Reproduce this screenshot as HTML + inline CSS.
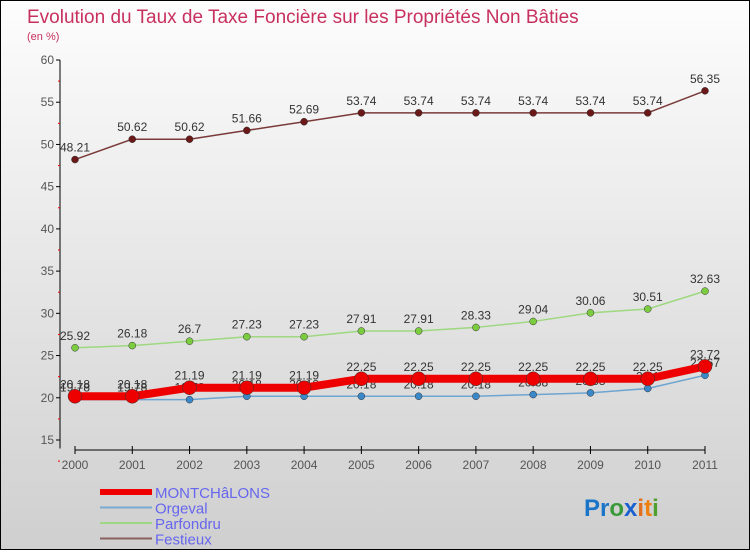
<!DOCTYPE html>
<html><head><meta charset="utf-8"><style>
html,body{margin:0;padding:0}
body{width:750px;height:550px;overflow:hidden;font-family:"Liberation Sans",sans-serif}
#wrap{position:relative;width:748px;height:548px;border:1px solid #000;background:linear-gradient(#fdfdfd,#cfcfcf)}
</style></head><body>
<div id="wrap">
<svg id="chart" width="748" height="548" xmlns="http://www.w3.org/2000/svg">
<text x="26" y="22" font-size="19" fill="#c8305f">Evolution du Taux de Taxe Foncière sur les Propriétés Non Bâties</text>
<text x="26" y="39" font-size="11" fill="#c8305f">(en %)</text>
<g id="axes"></g><g id="series"></g><g id="legend"></g>
<text x="583" y="515" font-size="24" font-weight="bold"><tspan fill="#1a75c9">Pr</tspan><tspan fill="#3a9a3a">o</tspan><tspan fill="#1a5fd0">x</tspan><tspan fill="#e07020">i</tspan><tspan fill="#f08010">t</tspan><tspan fill="#50a030">i</tspan></text>
</svg></div>
<script>
const years=[2000,2001,2002,2003,2004,2005,2006,2007,2008,2009,2010,2011];
const montchalons=[20.18,20.18,21.19,21.19,21.19,22.25,22.25,22.25,22.25,22.25,22.25,23.72];
const orgeval=[19.78,19.78,19.78,20.18,20.18,20.18,20.18,20.18,20.38,20.58,21.1,22.67];
const parfondru=[25.92,26.18,26.7,27.23,27.23,27.91,27.91,28.33,29.04,30.06,30.51,32.63];
const festieux=[48.21,50.62,50.62,51.66,52.69,53.74,53.74,53.74,53.74,53.74,53.74,56.35];
const yTicks=[15,20,25,30,35,40,45,50,55,60];
const NS="http://www.w3.org/2000/svg";
const xs=i=>74+i*(630/11);
const ys=v=>59+(60-v)*(380/45);
function mk(t,a,p){const e=document.createElementNS(NS,t);for(const k in a)e.setAttribute(k,a[k]);p.appendChild(e);return e;}
const ax=document.getElementById('axes');
const yl=mk('line',{x1:59,y1:ys(60),x2:59,y2:ys(14),stroke:'#000'},ax);


yTicks.forEach(v=>{
  mk('line',{x1:55,x2:59,y1:ys(v),y2:ys(v),stroke:'#000'},ax);
  mk('line',{x1:57,x2:59,y1:ys(v-2.5),y2:ys(v-2.5),stroke:'#e00'},ax);
  const t=mk('text',{x:53,y:ys(v)+4,'font-size':12,fill:'#555','text-anchor':'end'},ax);
  t.textContent=v;
  
  
});
const xl=mk('line',{x1:74,y1:449,x2:704,y2:449,stroke:'#000'},ax);


years.forEach((y,i)=>{
  mk('line',{x1:xs(i),x2:xs(i),y1:445,y2:453,stroke:'#000'},ax);
  const t=mk('text',{x:xs(i),y:468,'font-size':12,fill:'#555','text-anchor':'middle'},ax);
  t.textContent=y;
  
  
});
const sg=document.getElementById('series');
function draw(vals,color,w,r,name,ptColor){
  const g=mk('g',{},sg);
  
  
  const pl=mk('polyline',{points:vals.map((v,i)=>xs(i)+','+ys(v)).join(' '),fill:'none',stroke:color,'stroke-width':w,'stroke-linejoin':'round'},g);
  
  
  vals.forEach((v,i)=>{
    const c=mk('circle',{cx:xs(i),cy:ys(v),r:r,fill:ptColor,stroke:'#333','stroke-width':0.5},g);
    
    
    const t=mk('text',{x:xs(i),y:ys(v)-8,'font-size':12,fill:'#333','text-anchor':'middle'},g);
    t.textContent=v;
    
    
  });
}
draw(festieux,'#7a3a3a',1.5,3.5,'festieux','#6b1818');
draw(parfondru,'#9ed880',1.5,3.5,'parfondru','#7ccc40');
draw(orgeval,'#6ea4d0',1.5,3.5,'orgeval','#3a88c8');
draw(montchalons,'#ee0000',8,7,'montchalons','#ee0000');
const lg=document.getElementById('legend');
const items=[['MONTCHâLONS','#ee0000',6],['Orgeval','#7aaad0',2],['Parfondru','#9ed880',2],['Festieux','#8a6060',2]];
items.forEach((it,k)=>{
  const y=491+k*15.5;
  const g=mk('g',{},lg);
  
  
  mk('line',{x1:99,x2:151,y1:y,y2:y,stroke:it[1],'stroke-width':it[2]},g);
  const t=mk('text',{x:154,y:y+6,'font-size':15,fill:'#6666ee'},g);
  t.textContent=it[0];
});
</script>
</body></html>
